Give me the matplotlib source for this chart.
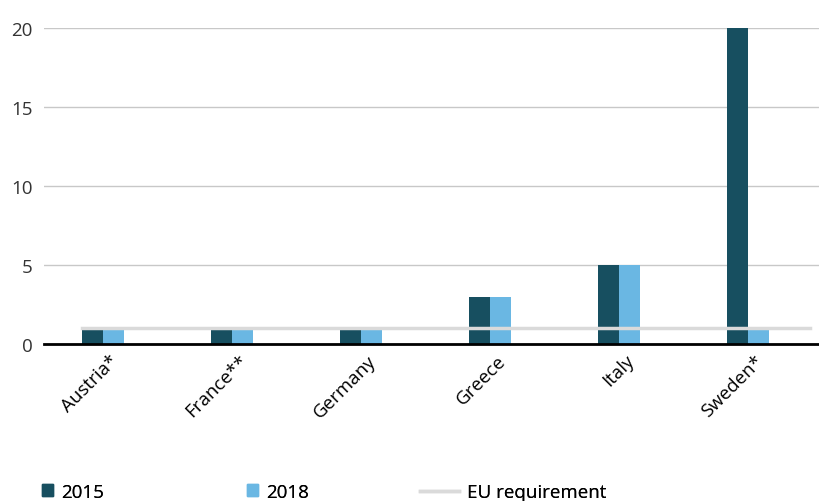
import matplotlib
matplotlib.use("Agg")
import matplotlib.pyplot as plt
import numpy as np
from matplotlib.patches import Patch
from matplotlib.lines import Line2D

countries = ["Austria*", "France**", "Germany", "Greece", "Italy", "Sweden*"]
v2015 = [1, 1, 1, 3, 5, 20]
v2018 = [1, 1, 1, 3, 5, 1]
eu_requirement = 1

dark = "#174f60"
light = "#6ab7e3"
eu_col = "#dadada"

plt.rcParams["font.family"] = ["Open Sans", "DejaVu Sans"]

fig = plt.figure(figsize=(8.2, 5.02), dpi=100)
ax = fig.add_axes([0.0537, 0.3127, 0.9463, 0.6296])

x = np.arange(len(countries))
w = 0.165
ax.bar(x - w / 2, v2015, width=w, color=dark, zorder=2)
ax.bar(x + w / 2, v2018, width=w, color=light, zorder=2)
ax.plot([x[0] - w, x[-1] + 0.48], [eu_requirement, eu_requirement],
        color=eu_col, lw=2.5, zorder=3)

ax.set_xlim(-0.457, 5.558)
ax.set_ylim(0, 20)
ax.set_yticks([0, 5, 10, 15, 20])
ax.yaxis.grid(True, color="#c8c8c8", lw=1)
ax.set_axisbelow(True)
for s in ["top", "right", "left"]:
    ax.spines[s].set_visible(False)
ax.spines["bottom"].set_color("black")
ax.spines["bottom"].set_linewidth(2)
ax.spines["bottom"].set_zorder(4)
ax.tick_params(axis="y", length=0, labelsize=13.5, labelcolor="#333333", pad=8)
ax.tick_params(axis="x", length=0, labelsize=13.5, pad=5)
ax.set_xticks(x + 0.05)
ax.set_xticklabels(countries, rotation=45, ha="right", rotation_mode="anchor")

# legend: three fixed-position entries
entries = [
    (Patch(color=dark), "2015", 0.051),
    (Patch(color=light), "2018", 0.301),
    (Line2D([], [], color=eu_col, lw=2.5), "EU requirement", 0.512),
]
for h, lab, xpos in entries:
    is_line = isinstance(h, Line2D)
    leg = fig.legend([h], [lab], loc="lower left", bbox_to_anchor=(xpos, 0.0),
                     frameon=False, fontsize=13.5, borderaxespad=0, borderpad=0,
                     handlelength=2.1 if is_line else 0.6,
                     handleheight=0.6, handletextpad=0.45 if not is_line else 0.4)
    fig.add_artist(leg)

fig.savefig("out.png", dpi=100)
